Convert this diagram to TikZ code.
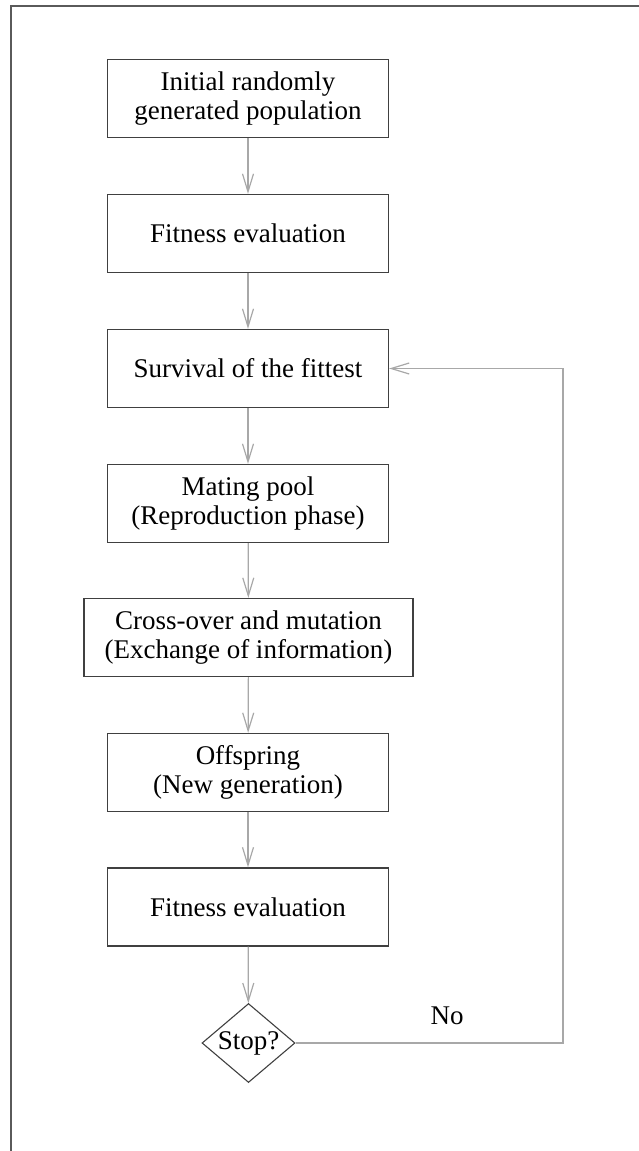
\documentclass[tikz,border=0pt]{standalone}
\usepackage{fontspec}
\setmainfont{Liberation Serif}
\usepackage{xcolor}
\usepackage{tikz}
\usetikzlibrary{arrows.meta,positioning,shapes.geometric}
\definecolor{boxline}{HTML}{404040}
\definecolor{flowgray}{HTML}{A8A8A8}
\definecolor{frameline}{HTML}{5A5A5A}
\tikzset{
  gabox/.style={
    draw=boxline,
    fill=white,
    line width=1.3pt,
    align=center,
    minimum width=281pt,
    minimum height=78pt,
    inner sep=4pt
  },
  widebox/.style={gabox, minimum width=329pt},
  stopdiamond/.style={
    diamond,
    draw=boxline,
    line width=1.1pt,
    inner sep=0pt,
    aspect=1.18,
    minimum width=93pt,
    minimum height=79pt
  },
  arrow/.style={-{Straight Barb[length=18pt,width=11pt,line width=1.2pt]}, line width=1.2pt, draw=flowgray},
  outerframe/.style={draw=frameline, line width=1.6pt}
}

\begin{document}
\begin{tikzpicture}[x=1pt,y=-1pt, font=\fontsize{27}{29}\selectfont]
  \useasboundingbox (0,0) rectangle (639,1151);
  \draw[outerframe] (11,1170) |- (660,6);

  \node[gabox] (init) at (248,98.5) {Initial randomly\\generated population};
  \node[gabox] (fit1) at (248,233.5) {Fitness evaluation};
  \node[gabox] (surv) at (248,368.5) {Survival of the fittest};
  \node[gabox] (mate) at (248,503.5) {Mating pool\\(Reproduction phase)};
  \node[widebox] (cross) at (248.5,637.5) {Cross-over and mutation\\(Exchange of information)};
  \node[gabox] (offs) at (248,772.5) {Offspring\\(New generation)};
  \node[gabox] (fit2) at (248,907) {Fitness evaluation};
  \node[stopdiamond] (stop) at (248.5,1043) {Stop?};

  \coordinate (loopcorner) at (563,1043);
  \node (nolabel) at (447,1016) {No};

  \draw[arrow] (init) -- (fit1);
  \draw[arrow] (fit1) -- (surv);
  \draw[arrow] (surv) -- (mate);
  \draw[arrow] (mate) -- (cross);
  \draw[arrow] (cross) -- (offs);
  \draw[arrow] (offs) -- (fit2);
  \draw[arrow] (fit2) -- (stop);
  \draw[arrow] (stop.east) -- (loopcorner) |- (surv.east);
\end{tikzpicture}
\end{document}
